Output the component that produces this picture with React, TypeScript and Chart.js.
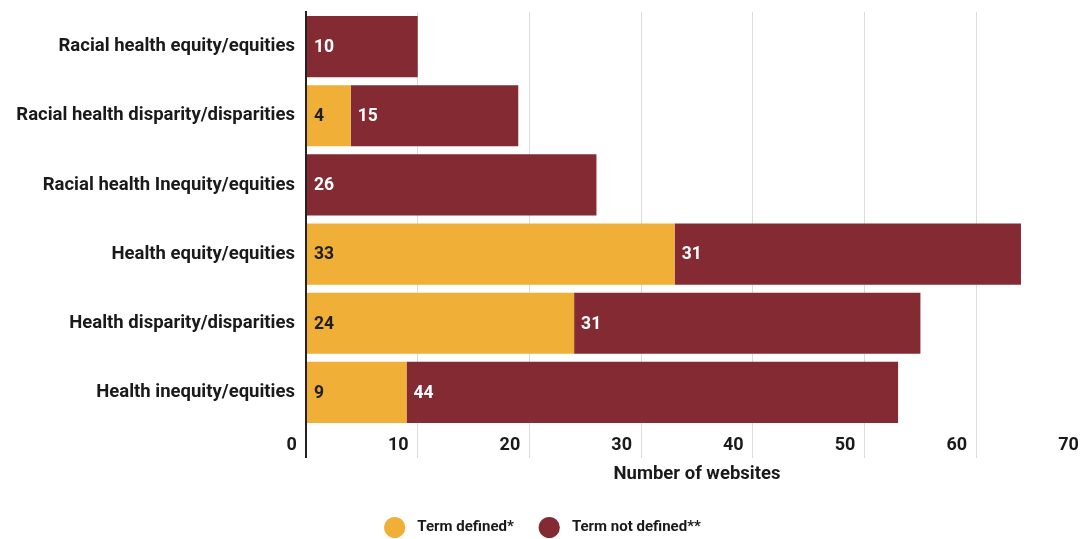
import React, { useEffect, useRef } from "react";
import { Chart, registerables } from "chart.js";

Chart.register(...registerables);

const categories = [
  "Racial health equity/equities",
  "Racial health disparity/disparities",
  "Racial health Inequity/equities",
  "Health equity/equities",
  "Health disparity/disparities",
  "Health inequity/equities",
];
const termDefined = [0, 4, 0, 33, 24, 9];
const termNotDefined = [10, 15, 26, 31, 31, 44];
const seriesNames = ["Term defined*", "Term not defined**"];
const xTicks = [0, 10, 20, 30, 40, 50, 60, 70];
const axisTitle = "Number of websites";

const YELLOW = "#F0AF36";
const MAROON = "#832A33";
const FONT = "Roboto";
const W = "bold";

const dataLabels = {
  id: "dataLabels",
  afterDatasetsDraw(chart: any) {
    const ctx = chart.ctx;
    ctx.save();
    ctx.font = `${W} 17.5px ${FONT}`;
    ctx.textAlign = "left";
    ctx.textBaseline = "middle";
    chart.data.datasets.forEach((ds: any, di: number) => {
      const meta = chart.getDatasetMeta(di);
      meta.data.forEach((el: any, i: number) => {
        const v = ds.data[i];
        if (!v) return;
        const left = Math.min(el.base, el.x);
        ctx.fillStyle = di === 0 ? "#1f1f1f" : "#ffffff";
        ctx.fillText(String(v), left + 7, el.y + 1);
      });
    });
    ctx.restore();
  },
};

export default function App() {
  const ref = useRef<HTMLCanvasElement>(null);
  useEffect(() => {
    document.body.style.margin = "0";
    const chart = new Chart(ref.current!, {
      type: "bar",
      data: {
        labels: categories,
        datasets: [
          {
            label: seriesNames[0],
            data: termDefined,
            backgroundColor: YELLOW,
            borderWidth: 0,
            barPercentage: 0.885,
            categoryPercentage: 1,
          },
          {
            label: seriesNames[1],
            data: termNotDefined,
            backgroundColor: MAROON,
            borderWidth: 0,
            barPercentage: 0.885,
            categoryPercentage: 1,
          },
        ],
      },
      options: {
        indexAxis: "y",
        animation: false,
        responsive: false,
        maintainAspectRatio: false,
        layout: { padding: { top: 0, bottom: -6, left: 0, right: 0 } },
        plugins: {
          legend: {
            position: "bottom",
            labels: {
              usePointStyle: true,
              pointStyle: "circle",
              boxWidth: 16,
              boxHeight: 16,
              padding: 28,
              color: "#1a1a1a",
              font: { family: FONT, size: 15, weight: W },
              generateLabels(chart: any) {
                const items = Chart.defaults.plugins.legend.labels.generateLabels(chart);
                return items.map((it: any) => ({ ...it, text: "\u2002" + it.text, lineWidth: 0 }));
              },
            },
          },
          tooltip: { enabled: false },
        },
        scales: {
          x: {
            stacked: true,
            min: 0,
            max: 70,
            afterBuildTicks(scale: any) {
              scale.ticks = xTicks.map((v) => ({ value: v }));
            },
            afterFit(scale: any) {
              scale.height = 65;
            },
            border: { display: false },
            grid: {
              color: (c: any) => (c.tick && c.tick.value === 0 ? "#222222" : "#dcdcdc"),
              lineWidth: (c: any) => (c.tick && c.tick.value === 0 ? 2 : 1),
              drawTicks: true,
              tickLength: 31,
            },
            ticks: {
              align: "end",
              padding: -23,
              maxRotation: 0,
              autoSkip: false,
              color: "#1a1a1a",
              font: { family: FONT, size: 18, weight: W },
              callback: (v: any) => `${v}\u2002`,
            },
            title: {
              display: true,
              text: axisTitle,
              color: "#1a1a1a",
              font: { family: FONT, size: 18.5, weight: W },
              padding: { top: 0, bottom: 7 },
            },
          },
          y: {
            stacked: true,
            afterFit(scale: any) {
              scale.width = 306;
              scale.paddingTop = 12;
              scale.paddingBottom = 0;
            },
            border: { display: true, color: "#222222", width: 2 },
            grid: { display: false, drawTicks: false },
            ticks: {
              padding: 11,
              color: "#1a1a1a",
              font: { family: FONT, size: 18.5, weight: W },
            },
          },
        },
      },
      plugins: [dataLabels],
    } as any);
    return () => chart.destroy();
  }, []);
  return (
    <div style={{ width: 1088, height: 539 }}>
      <canvas ref={ref} width={1088} height={539} style={{ display: "block" }} />
    </div>
  );
}
